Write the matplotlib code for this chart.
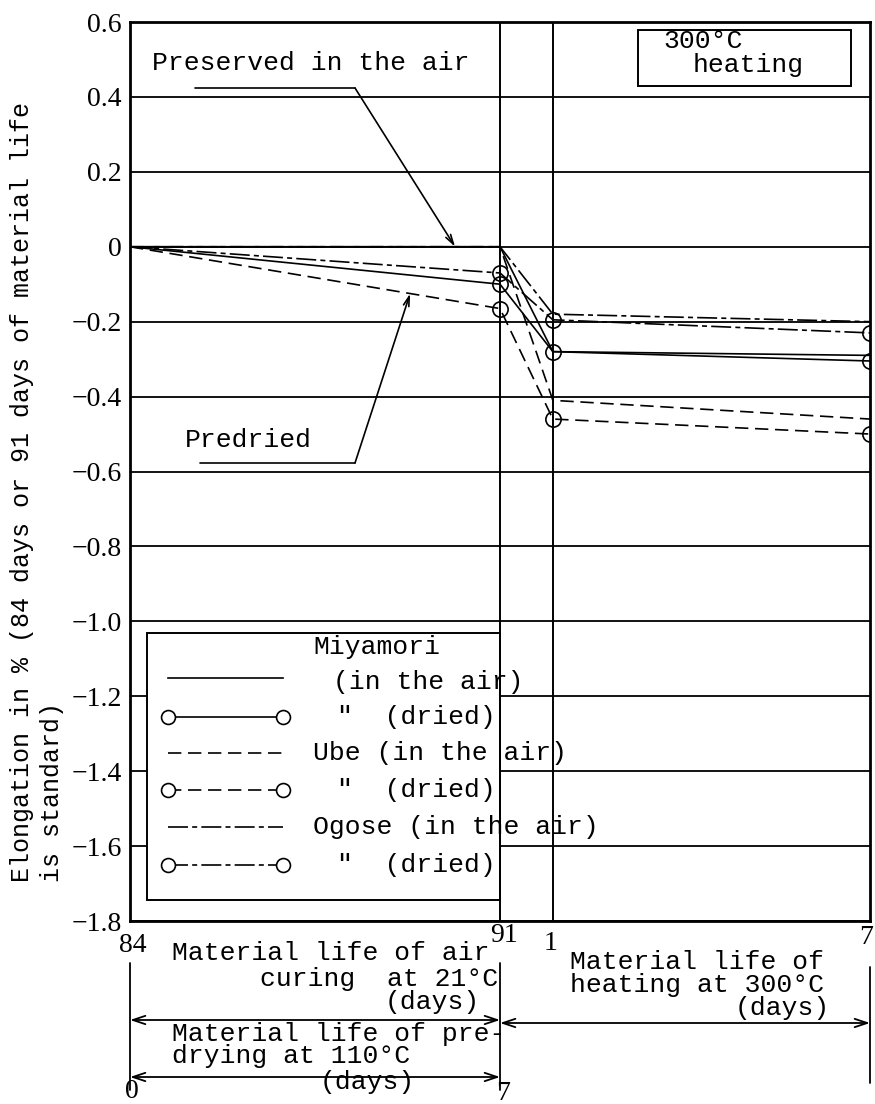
import matplotlib.pyplot as plt
from matplotlib.lines import Line2D
from matplotlib.patches import Rectangle
import matplotlib.transforms as mtransforms

W, H = 875, 1104

# one running x axis: 0..7 = 84..91 days of air curing (or 0..7 days of predrying),
# 7..14 = 0..7 days of heating at 300 C
x_days = [0, 7, 8, 14]

miyamori_air = [0.0, 0.0, -0.28, -0.29]
miyamori_dried = [0.0, -0.10, -0.28, -0.305]
ube_air = [0.0, 0.0, -0.41, -0.46]
ube_dried = [0.0, -0.165, -0.46, -0.50]
ogose_air = [0.0, 0.0, -0.18, -0.20]
ogose_dried = [0.0, -0.07, -0.195, -0.23]

x_tick_pos = [0, 7, 8, 14]
x_tick_labels = ["84", "91", "1", "7"]
y_ticks = [0.6, 0.4, 0.2, 0.0, -0.2, -0.4, -0.6, -0.8, -1.0, -1.2, -1.4, -1.6, -1.8]
y_tick_labels = ["0.6", "0.4", "0.2", "0", "−0.2", "−0.4", "−0.6", "−0.8",
                 "−1.0", "−1.2", "−1.4", "−1.6", "−1.8"]

MONO = "Liberation Mono"
SERIF = "Liberation Serif"
FS = 19
TFS = 20

UBE_DASH = (0, (8, 4))
OGOSE_DASH = (0, (12, 2.5, 3, 2.5))


def fx(px):
    return px / W


def fy(py):
    return 1 - py / H


fig = plt.figure(figsize=(W / 100, H / 100), dpi=100)
ax = fig.add_axes([fx(130), fy(921), (870 - 130) / W, (921 - 22) / H])
ax.set_xlim(0, 14)
ax.set_ylim(-1.8, 0.6)

for s in ax.spines.values():
    s.set_linewidth(2.0)

ax.set_yticks(y_ticks, y_tick_labels, fontfamily=SERIF, fontsize=TFS)
ax.set_xticks(x_tick_pos, x_tick_labels, fontfamily=SERIF, fontsize=TFS)
ax.tick_params(axis="y", length=0, pad=6)
ax.tick_params(axis="x", length=0, pad=9)
ax.grid(axis="y", color="black", lw=1.3, zorder=1)
ax.set_axisbelow(True)

# nudge the x tick labels the way they sit in the figure
nudges = {"84": (3, 0), "91": (4, 10), "1": (-2, 3), "7": (-4, 9)}
for lbl in ax.get_xticklabels():
    dx, dy = nudges[lbl.get_text()]
    off = mtransforms.ScaledTranslation(dx / 100, dy / 100, fig.dpi_scale_trans)
    lbl.set_transform(lbl.get_transform() + off)

ax.axvline(7, color="black", lw=1.4, zorder=6)
ax.axvline(8, color="black", lw=1.4, zorder=6)

series = [
    (miyamori_air, "-", False),
    (miyamori_dried, "-", True),
    (ube_air, UBE_DASH, False),
    (ube_dried, UBE_DASH, True),
    (ogose_air, OGOSE_DASH, False),
    (ogose_dried, OGOSE_DASH, True),
]
for vals, ls, dried in series:
    ax.plot(x_days, vals, color="black", lw=1.2, ls=ls, zorder=3,
            marker="o" if dried else None, markevery=[1, 2, 3],
            ms=11, mfc="none", mec="black", mew=1.2)

# legend, drawn by hand like the original
ax.add_patch(Rectangle((fx(147), fy(900)), fx(500) - fx(147), fy(633) - fy(900),
                       transform=fig.transFigure, fc="white", ec="black", lw=1.4, zorder=4))
legend_rows = [678, 717, 753, 790, 827, 865]
for (vals, ls, dried), ry in zip(series, legend_rows):
    ax.add_line(Line2D([fx(168), fx(283)], [fy(ry), fy(ry)], transform=fig.transFigure,
                       color="black", lw=1.2, ls=ls, zorder=5,
                       marker="o" if dried else None, ms=10, mfc="white",
                       mec="black", mew=1.2))
legend_texts = [
    ("Miyamori", 313, 647),
    ("(in the air)", 333, 682),
    ('"  (dried)', 337, 717),
    ("Ube (in the air)", 313, 753),
    ('"  (dried)', 337, 790),
    ("Ogose (in the air)", 313, 827),
    ('"  (dried)', 337, 865),
]
for txt, tx, ty in legend_texts:
    ax.text(fx(tx), fy(ty), txt, transform=fig.transFigure, fontfamily=MONO,
            fontsize=FS, va="center", ha="left", zorder=5)

# 300 C heating box
fig.add_artist(Rectangle((fx(638), fy(86)), fx(851) - fx(638), fy(30) - fy(86),
                         transform=fig.transFigure, fc="white", ec="black", lw=1.4))
fig.text(fx(663), fy(41), "300°C", fontfamily=MONO, fontsize=FS, va="center")
fig.text(fx(693), fy(65), "heating", fontfamily=MONO, fontsize=FS, va="center")

# annotations inside the plot
fig.text(fx(152), fy(63), "Preserved in the air", fontfamily=MONO, fontsize=FS, va="center")
ax.annotate("", xy=(fx(195), fy(88)), xytext=(fx(355), fy(88)), xycoords="figure fraction",
            arrowprops=dict(arrowstyle="-", lw=1.2, shrinkA=0, shrinkB=0))
ax.annotate("", xy=(6.15, 0.0), xytext=(fx(355), fy(88)), xycoords="data",
            textcoords="figure fraction",
            arrowprops=dict(arrowstyle="->,head_length=0.7,head_width=0.2", lw=1.2,
                            shrinkA=0, shrinkB=0))

fig.text(fx(185), fy(440), "Predried", fontfamily=MONO, fontsize=FS, va="center")
ax.annotate("", xy=(fx(200), fy(463)), xytext=(fx(355), fy(463)), xycoords="figure fraction",
            arrowprops=dict(arrowstyle="-", lw=1.2, shrinkA=0, shrinkB=0))
ax.annotate("", xy=(5.3, -0.125), xytext=(fx(355), fy(463)), xycoords="data",
            textcoords="figure fraction",
            arrowprops=dict(arrowstyle="->,head_length=0.7,head_width=0.2", lw=1.2,
                            shrinkA=0, shrinkB=0))

# y label (two lines, left aligned in rotated frame)
fig.text(fx(37), fy(882), "Elongation in % (84 days or 91 days of material life\nis standard)",
         rotation=90, ha="center", va="bottom", multialignment="left",
         fontfamily=MONO, fontsize=18, linespacing=1.35)

# period markers below the axis
for xv, y1, y2 in [(0, 963, 1090), (7, 963, 1090), (14, 967, 1083)]:
    ax.annotate("", xy=(xv, fy(y1)), xytext=(xv, fy(y2)),
                xycoords=("data", "figure fraction"), annotation_clip=False,
                arrowprops=dict(arrowstyle="-", lw=1.3, shrinkA=0, shrinkB=0))
for x1, x2, yy in [(0, 7, 1020), (7, 14, 1023), (0, 7, 1077)]:
    ax.annotate("", xy=(x1, fy(yy)), xytext=(x2, fy(yy)),
                xycoords=("data", "figure fraction"), annotation_clip=False,
                arrowprops=dict(arrowstyle="<->,head_length=0.9,head_width=0.3", lw=1.3,
                                shrinkA=0, shrinkB=0))

below_texts = [
    ("Material life of air", 172, 953),
    ("curing  at 21°C", 260, 979),
    ("(days)", 385, 1002),
    ("Material life of pre-", 172, 1034),
    ("drying at 110°C", 172, 1056),
    ("(days)", 320, 1082),
    ("Material life of", 570, 962),
    ("heating at 300°C", 570, 985),
    ("(days)", 735, 1008),
]
for txt, tx, ty in below_texts:
    fig.text(fx(tx), fy(ty), txt, fontfamily=MONO, fontsize=FS, va="center", ha="left")

fig.text(fx(132), fy(1092), "0", fontfamily=SERIF, fontsize=TFS, ha="center", va="center")
fig.text(fx(503), fy(1093), "7", fontfamily=SERIF, fontsize=TFS, ha="center", va="center")

fig.savefig("out.png", dpi=100)
